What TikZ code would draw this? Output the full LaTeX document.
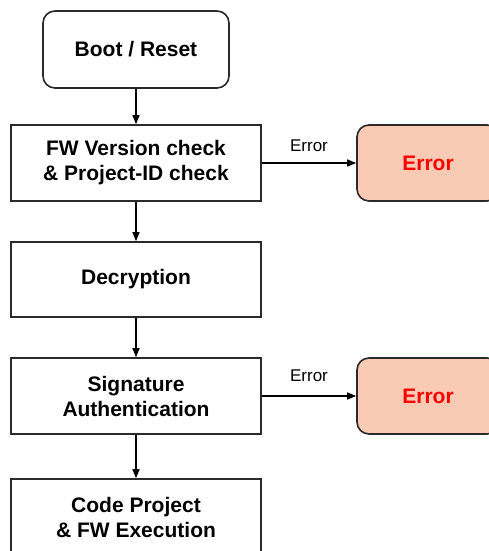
\documentclass[tikz,border=0pt]{standalone}
\usepackage{fontspec}
\setmainfont{Liberation Sans}
\usetikzlibrary{arrows.meta}
\definecolor{edgegray}{HTML}{2A2A2A}
\definecolor{errfill}{HTML}{F9CAB4}
\definecolor{errtext}{HTML}{FF0000}
\begin{document}
\begin{tikzpicture}[x=1pt,y=-1pt,
  box/.style={draw=edgegray, line width=1.6pt, fill=white, minimum width=250pt,
    minimum height=76pt, align=center, font=\fontsize{21}{25}\selectfont\bfseries,
    inner sep=0pt},
  roundbox/.style={box, rounded corners=12pt},
  errbox/.style={roundbox, fill=errfill, minimum width=142pt,
    text=errtext},
  flow/.style={draw=black, line width=1.3pt, -{Triangle[length=9pt,width=7pt]}},
  errlabel/.style={font=\fontsize{17}{17}\selectfont, inner sep=0pt}
]
\useasboundingbox (0,0) rectangle (489,551);
\clip (0,0) rectangle (489,551);
\fill[white] (0,0) rectangle (489,551);

% main sequence
\node[roundbox, minimum width=186pt, minimum height=77pt] (boot) at (136,49.5) {Boot / Reset};
\node[box] (fw)   at (136,163) {FW Version check\\\& Project-ID check};
\node[box, minimum height=75pt] (dec)  at (136,279.5) {Decryption};
\node[box] (sig)  at (136,396) {Signature\\Authentication};
\node[box] (code) at (136,517) {Code Project\\\& FW Execution};

% failure exits
\node[errbox] (err1) at (428,163) {Error};
\node[errbox] (err2) at (428,396) {Error};

% connectors
\draw[flow] (boot) -- (fw);
\draw[flow] (fw) -- (dec);
\draw[flow] (dec) -- (sig);
\draw[flow] (sig) -- (code);
\draw[flow] (fw) -- node[errlabel, above=11pt] {Error} (err1);
\draw[flow] (sig) -- node[errlabel, above=14pt] {Error} (err2);
\end{tikzpicture}
\end{document}
